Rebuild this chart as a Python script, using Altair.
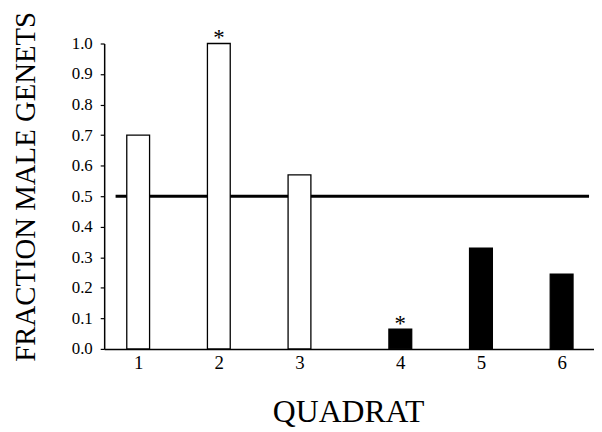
import altair as alt
import pandas as pd

# Data
quadrats = ["1", "2", "3", "4", "5", "6"]
positions = [1, 2, 3, 4.25, 5.25, 6.25]          # gap between quadrat 3 and 4
fraction_male = [0.70, 1.00, 0.57, 0.065, 0.33, 0.245]
bar_fill = ["white", "white", "white", "black", "black", "black"]
significant = ["", "*", "", "*", "", ""]

reference_value = 0.5
x_domain = [0.64, 6.59]
line_start = 0.72

df = pd.DataFrame({
    "quadrat": quadrats,
    "pos": positions,
    "frac": fraction_male,
    "fill": bar_fill,
    "star": significant,
})
ref_df = pd.DataFrame({"y": [reference_value], "x0": [line_start], "x1": [x_domain[1]]})

FONT = "Liberation Serif"

label_expr = " : ".join(
    f"datum.value == {p} ? '{q}'" for p, q in zip(positions, quadrats)
) + " : ''"

x_scale = alt.Scale(domain=x_domain, nice=False, zero=False)
y_scale = alt.Scale(domain=[0, 1], nice=False)

x_axis = alt.Axis(
    title="QUADRAT", values=positions, labelExpr=label_expr,
    ticks=False, grid=False, labelFontSize=19, labelPadding=5,
    labelFont=FONT, labelColor="black", domainColor="black", domainWidth=1.5,
    titleFont=FONT, titleFontSize=32, titleFontWeight="normal", titleColor="black",
    titleBaseline="alphabetic", titleAnchor="middle", titleX=246, titleY=73,
)
y_axis = alt.Axis(
    title="FRACTION MALE GENETS", values=[i / 10 for i in range(11)], format=".1f",
    grid=False, tickSize=4, tickColor="black", tickWidth=1.2, labelPadding=8,
    labelFontSize=17, labelFont=FONT, labelColor="black",
    domainColor="black", domainWidth=1.5,
    titleFont=FONT, titleFontSize=29, titleFontWeight="normal", titleColor="black",
    titleAngle=270, titleAlign="center", titleBaseline="alphabetic",
    titleX=-70, titleY=144,
)

rule = alt.Chart(ref_df).mark_rule(color="black", strokeWidth=3).encode(
    x=alt.X("x0:Q", scale=x_scale, axis=x_axis),
    x2="x1:Q",
    y=alt.Y("y:Q", scale=y_scale, axis=y_axis),
)

bars = alt.Chart(df).mark_bar(size=23, stroke="black", strokeWidth=1.3).encode(
    x=alt.X("pos:Q", scale=x_scale, axis=x_axis),
    y=alt.Y("frac:Q", scale=y_scale, axis=y_axis),
    fill=alt.Fill("fill:N", scale=None, legend=None),
)

stars = alt.Chart(df).mark_text(
    font=FONT, fontSize=23, color="black", baseline="alphabetic", dy=2
).encode(
    x=alt.X("pos:Q", scale=x_scale, axis=x_axis),
    y=alt.Y("frac:Q", scale=y_scale, axis=y_axis),
    text="star:N",
)

chart = alt.layer(rule, bars, stars).properties(
    width=494, height=308,
    autosize=alt.AutoSizeParams(type="none"),
    padding={"left": 97, "top": 34, "right": 0, "bottom": 82},
    background="white",
).configure_view(stroke=None)

chart.save("out.html", embed_options={"renderer": "svg", "actions": False})
